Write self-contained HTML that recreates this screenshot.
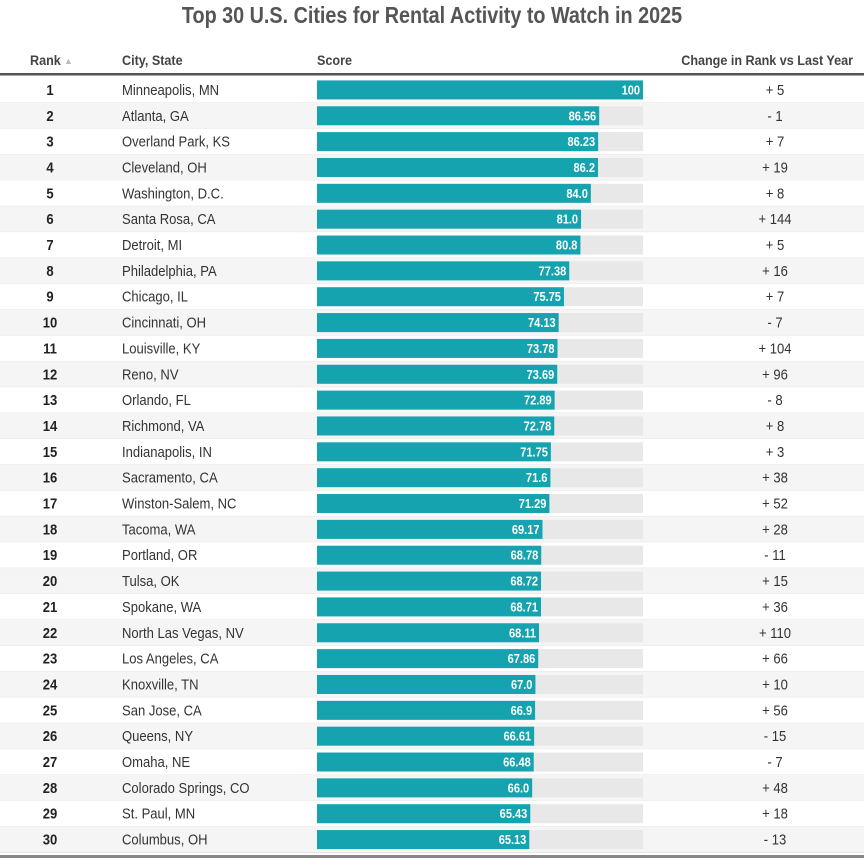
<!DOCTYPE html>
<html><head><meta charset="utf-8"><style>
body{margin:0;background:#fff;width:864px;height:861px;overflow:hidden;font-family:"Liberation Sans",sans-serif;}
svg text{font-family:"Liberation Sans",sans-serif;}
</style></head><body>
<svg id="c" width="864" height="861"></svg>
<script>
const ranks=[1,2,3,4,5,6,7,8,9,10,11,12,13,14,15,16,17,18,19,20,21,22,23,24,25,26,27,28,29,30];
const cities=["Minneapolis, MN","Atlanta, GA","Overland Park, KS","Cleveland, OH","Washington, D.C.","Santa Rosa, CA","Detroit, MI","Philadelphia, PA","Chicago, IL","Cincinnati, OH","Louisville, KY","Reno, NV","Orlando, FL","Richmond, VA","Indianapolis, IN","Sacramento, CA","Winston-Salem, NC","Tacoma, WA","Portland, OR","Tulsa, OK","Spokane, WA","North Las Vegas, NV","Los Angeles, CA","Knoxville, TN","San Jose, CA","Queens, NY","Omaha, NE","Colorado Springs, CO","St. Paul, MN","Columbus, OH"];
const scores=[100,86.56,86.23,86.2,84.0,81.0,80.8,77.38,75.75,74.13,73.78,73.69,72.89,72.78,71.75,71.6,71.29,69.17,68.78,68.72,68.71,68.11,67.86,67.0,66.9,66.61,66.48,66.0,65.43,65.13];
const scoreLabels=["100","86.56","86.23","86.2","84.0","81.0","80.8","77.38","75.75","74.13","73.78","73.69","72.89","72.78","71.75","71.6","71.29","69.17","68.78","68.72","68.71","68.11","67.86","67.0","66.9","66.61","66.48","66.0","65.43","65.13"];
const changes=["+ 5","- 1","+ 7","+ 19","+ 8","+ 144","+ 5","+ 16","+ 7","- 7","+ 104","+ 96","- 8","+ 8","+ 3","+ 38","+ 52","+ 28","- 11","+ 15","+ 36","+ 110","+ 66","+ 10","+ 56","- 15","- 7","+ 48","+ 18","- 13"];

const svg=document.getElementById('c');
const NS='http://www.w3.org/2000/svg';
function mk(tag,attrs,parent){const e=document.createElementNS(NS,tag);for(const k in attrs)e.setAttribute(k,attrs[k]);(parent||svg).appendChild(e);return e;}
function txt(x,y,sx,attrs,parent){attrs.x=0;attrs.y=0;attrs.transform='translate('+x+','+y+') scale('+sx+',1)';return mk('text',attrs,parent);}
const x0=317,x1=643;
const xs=v=>x0+(x1-x0)*v/100;
const rowTop=i=>77+i*25.85;
const rowH=25.85;

let t=txt(432,23,0.86,{'text-anchor':'middle','font-size':23,'font-weight':'bold',fill:'#555'});
t.textContent='Top 30 U.S. Cities for Rental Activity to Watch in 2025';



const hdr=[["Rank",30,'start','rank-header'],["City, State",122,'start','city-header'],["Score",317,'start','score-header'],["Change in Rank vs Last Year",853,'end','change-header']];
hdr.forEach(h=>{const e=txt(h[1],65,0.9,{'text-anchor':h[2],'font-size':14,'font-weight':'bold',fill:'#444'});e.textContent=h[0];

});
let arr=mk('text',{x:64,y:64,'font-size':9,fill:'#bbb'});arr.textContent='▲';


mk('rect',{x:0,y:73,width:864,height:2.5,fill:'#555'});

ranks.forEach((r,i)=>{
  const y=rowTop(i), cy=y+rowH/2;
  const g=mk('g',{});
  
  
  mk('rect',{x:0,y:y,width:864,height:rowH,fill:i%2?'#f5f5f5':'#fff'},g);
  mk('rect',{x:0,y:y+rowH-0.5,width:864,height:1,fill:'#e6e6e6'},g);
  const a=txt(50,cy+5,0.9,{'text-anchor':'middle','font-size':14.5,'font-weight':'bold',fill:'#222'},g);a.textContent=r;
  
  
  const c=txt(122,cy+5,0.9,{'font-size':14.5,fill:'#333'},g);c.textContent=cities[i];
  
  
  const tr=mk('rect',{x:x0,y:cy-9.5,width:x1-x0,height:19,fill:'#e8e8e8'},g);
  
  
  const b=mk('rect',{x:x0,y:cy-9.5,width:xs(scores[i])-x0,height:19,fill:'#15a3b0'},g);
  
  
  const l=txt(xs(scores[i])-3,cy+4.5,0.85,{'text-anchor':'end','font-size':13,'font-weight':'bold',fill:'#fff'},g);l.textContent=scoreLabels[i];
  
  
  const ch=txt(775,cy+5,0.9,{'text-anchor':'middle','font-size':14.5,fill:'#333'},g);ch.textContent=changes[i];
  
  
});
mk('rect',{x:0,y:855,width:864,height:3,fill:'#888'});
</script>
</body></html>
